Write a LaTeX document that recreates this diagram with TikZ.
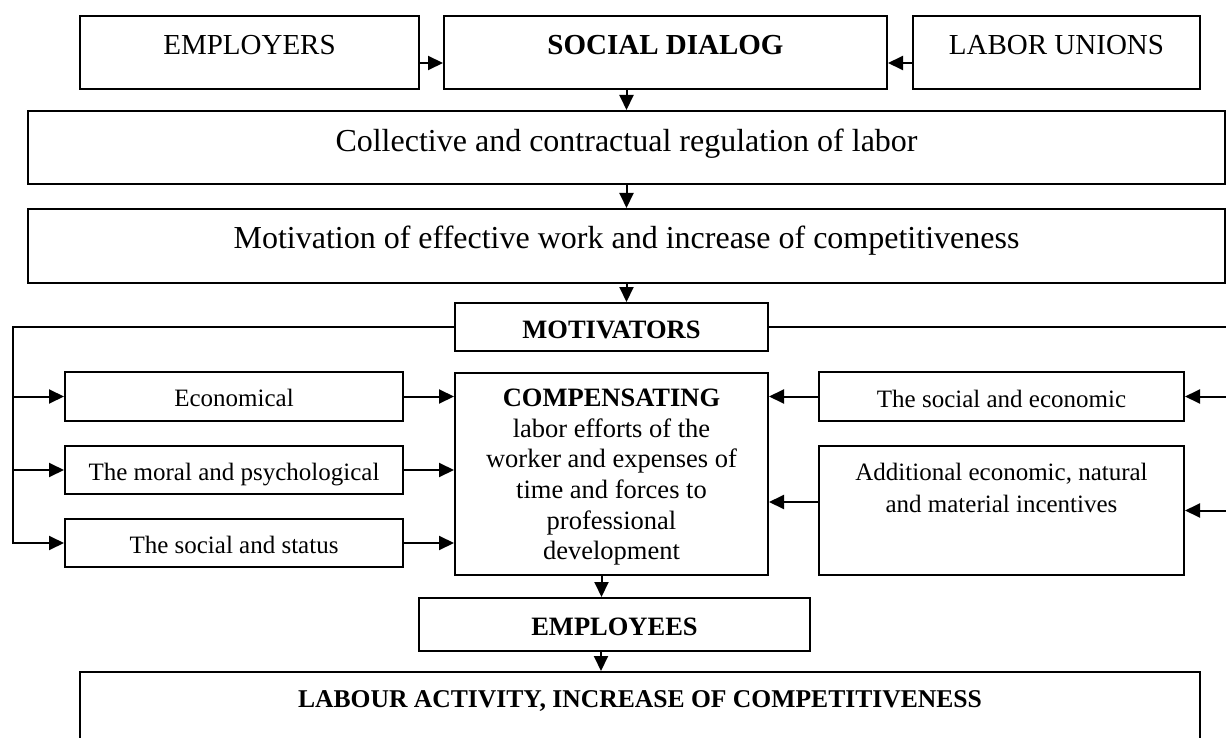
\documentclass[tikz,border=0pt]{standalone}
\usepackage{fontspec}
\setmainfont{Liberation Serif}
\usetikzlibrary{arrows.meta}
\begin{document}
\begin{tikzpicture}[x=1pt,y=-1pt,
  box/.style={draw,line width=2pt,inner sep=0pt,rectangle},
  arr/.style={line width=2pt,-{Triangle[length=15pt,width=14pt]}},
  ln/.style={line width=2pt},
  ftop/.style={font=\fontsize{29}{34}\selectfont},
  fbig/.style={font=\fontsize{32}{38}\selectfont},
  fmid/.style={font=\fontsize{26.5}{30.6}\selectfont},
  fsml/.style={font=\fontsize{25}{31.5}\selectfont}]
\useasboundingbox (0,0) rectangle (1226,738);
\clip (0,0) rectangle (1226,738);
% top row
\node[box,ftop,minimum width=339pt,text height=39pt,text depth=34pt] (empr) at (249.5,52.5) {EMPLOYERS};
\node[box,ftop,minimum width=443pt,text height=39pt,text depth=34pt] (dial) at (665.5,52.5) {\textbf{SOCIAL DIALOG}};
\node[box,ftop,minimum width=287pt,text height=39pt,text depth=34pt] (unio) at (1056.5,52.5) {LABOR UNIONS};
% wide boxes
\node[box,fbig,minimum width=1197pt,text height=41pt,text depth=32pt] (coll) at (626.5,147.5) {Collective and contractual regulation of labor};
\node[box,fbig,minimum width=1197pt,text height=39pt,text depth=35pt] (moti) at (626.5,246) {Motivation of effective work and increase of competitiveness};
% motivators
\node[box,fmid,minimum width=313pt,text height=35pt,text depth=13pt] (mvtr) at (611.5,327) {\textbf{MOTIVATORS}};
% left column
\node[box,fsml,minimum width=338pt,text height=34pt,text depth=15pt] (econ) at (234,396.5) {Economical};
\node[box,fsml,minimum width=338pt,text height=34pt,text depth=14pt] (moral) at (234,470) {The moral and psychological};
\node[box,fsml,minimum width=338pt,text height=34pt,text depth=14pt] (stat) at (234,543) {The social and status};
% center
\node[box,minimum width=313pt,minimum height=202pt] (comp) at (611.5,474) {};
\node[fmid,align=center,anchor=north,inner sep=0pt] (comptext) at (611.5,389) {\textbf{COMPENSATING}\\labor efforts of the\\worker and expenses of\\time and forces to\\professional\\development};
% right column
\node[box,fsml,minimum width=365pt,text height=35pt,text depth=14pt] (socec) at (1001.5,396.5) {The social and economic};
\node[box,minimum width=365pt,minimum height=129pt] (addi) at (1001.5,510.5) {};
\node[fsml,align=center,anchor=north,inner sep=0pt] (additext) at (1001.5,463) {Additional economic, natural\\and material incentives};
% bottom
\node[box,fmid,minimum width=391pt,text height=37pt,text depth=16pt] (empl) at (614.5,624.5) {\textbf{EMPLOYEES}};
\node[box,font=\fontsize{25.6}{30}\selectfont,minimum width=1120pt,text height=35pt,text depth=38pt] (labr) at (640,708.5) {\textbf{LABOUR ACTIVITY, INCREASE OF COMPETITIVENESS}};
% connectors
\draw[arr] ([yshift=-10.5pt]empr.east) -- ([yshift=-10.5pt]dial.west);
\draw[arr] ([yshift=-10.5pt]unio.west) -- ([yshift=-10.5pt]dial.east);
\draw[arr] (dial.south -| coll.north) -- (coll.north);
\draw[arr] (coll.south) -- (moti.north);
\draw[arr] (moti.south) -- (moti.south |- mvtr.north);
\coordinate (lt) at (13,327);
\coordinate (rt) at (1227,327);
\draw[arr] (mvtr.west) -- (lt) |- (stat.west);
\draw[arr] (lt |- econ.west) -- (econ.west);
\draw[arr] (lt |- moral.west) -- (moral.west);
\draw[arr] (econ.east) -- (econ.east -| comp.west);
\draw[arr] (moral.east) -- (moral.east -| comp.west);
\draw[arr] (stat.east) -- (stat.east -| comp.west);
\draw[ln] (mvtr.east) -- (rt);
\draw[arr] (rt |- socec.east) -- (socec.east);
\draw[arr] (rt |- addi.east) -- (addi.east);
\draw[arr] (socec.west) -- (socec.west -| comp.east);
\draw[arr] ([yshift=8.5pt]addi.west) -- ([yshift=8.5pt]addi.west -| comp.east);
\draw[arr] ([xshift=-10pt]comp.south) -- ([xshift=-10pt]comp.south |- empl.north);
\draw[arr] ([xshift=-13.5pt]empl.south) -- ([xshift=-13.5pt]empl.south |- labr.north);
\end{tikzpicture}
\end{document}
